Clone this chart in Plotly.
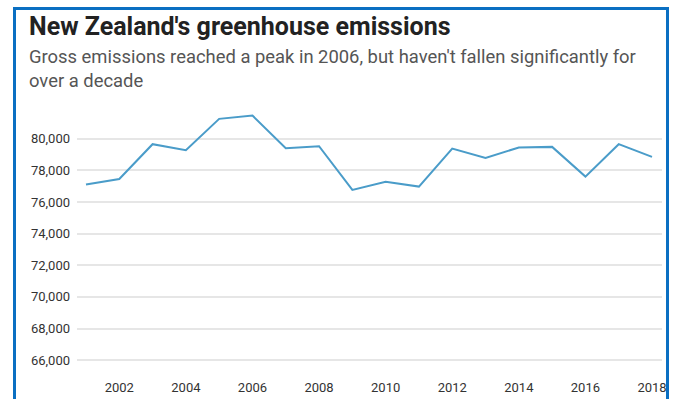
import plotly.graph_objects as go

years = list(range(2001, 2019))
emissions = [77100, 77450, 79650, 79270, 81250, 81460, 79400, 79525, 76760,
             77270, 76970, 79375, 78785, 79440, 79480, 77600, 79650, 78850]
x_ticks = list(range(2002, 2019, 2))
y_ticks = list(range(66000, 80001, 2000))

title_text = "New Zealand's greenhouse emissions"
subtitle_text = "Gross emissions reached a peak in 2006, but haven't fallen significantly for<br>over a decade"

W, H = 673, 399
L, R, T, B = 77, 11, 107, 23
PW, PH = W - L - R, H - T - B

def px(x):
    return (x - L) / PW

def py(y):
    return (H - B - y) / PH

fig = go.Figure()
fig.add_trace(go.Scatter(
    x=years, y=emissions, mode="lines",
    line=dict(color="#4a9cc9", width=2),
    hoverinfo="x+y", showlegend=False,
))

fig.update_layout(
    width=W, height=H,
    margin=dict(l=L, r=R, t=T, b=B),
    paper_bgcolor="white", plot_bgcolor="white",
    font=dict(family="Roboto, sans-serif", color="#333333", size=13),
    xaxis=dict(range=[2000.73, 2018.3], tickvals=x_ticks, ticktext=[str(t) for t in x_ticks],
               showgrid=False, zeroline=False, showline=False, ticks="",
               ticklabelstandoff=2, automargin=False,
               tickfont=dict(size=13, color="#333333")),
    yaxis=dict(range=[65000, 82000], tickvals=y_ticks, tickformat=",",
               showgrid=True, gridcolor="#e6e6e6", gridwidth=1.5, zeroline=False,
               showline=False, ticks="", ticklabelstandoff=6, automargin=False,
               tickfont=dict(size=13, color="#333333")),
    annotations=[
        dict(text="<b>" + title_text + "</b>", xref="paper", yref="paper",
             x=px(27), y=py(27), xanchor="left", yanchor="middle", showarrow=False,
             font=dict(family="Roboto, sans-serif", size=25, color="#222222")),
        dict(text=subtitle_text, xref="paper", yref="paper", align="left",
             x=px(27), y=py(68), xanchor="left", yanchor="middle", showarrow=False,
             font=dict(family="Roboto, sans-serif", size=18.4, color="#555555")),
    ],
    shapes=[
        dict(type="rect", xref="paper", yref="paper",
             x0=px(14.5), x1=px(667.5), y0=py(430), y1=py(8.5),
             line=dict(color="#0a6fc2", width=3), fillcolor="rgba(0,0,0,0)", layer="above"),
    ],
)

fig.write_html("out.html")
